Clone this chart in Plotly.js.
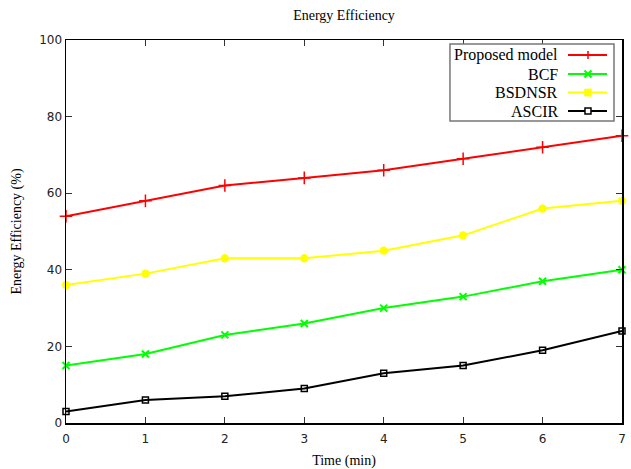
<!DOCTYPE html>
<html>
<head>
<meta charset="utf-8">
<script src="https://cdn.plot.ly/plotly-3.0.1.min.js"></script>
<style>html,body{margin:0;padding:0;background:#fff;}#chart{width:631px;height:469px;}</style>
</head>
<body>
<div id="chart"></div>
<script>
const timeMin = [0, 1, 2, 3, 4, 5, 6, 7];
const proposedModel = [54, 58, 62, 64, 66, 69, 72, 75];
const bcf = [15, 18, 23, 26, 30, 33, 37, 40];
const bsdnsr = [36, 39, 43, 43, 45, 49, 56, 58];
const ascir = [3, 6, 7, 9, 13, 15, 19, 24];
const seriesNames = ['Proposed model', 'BCF', 'BSDNSR', 'ASCIR'];
const xTicks = [0, 1, 2, 3, 4, 5, 6, 7];
const yTicks = [0, 20, 40, 60, 80, 100];

const serif = 'Liberation Serif, Times New Roman, serif';
const sans = 'DejaVu Sans, sans-serif';

function tr(y, name, color, symbol, size, mlw) {
  return {
    x: timeMin, y: y, name: name, type: 'scatter', mode: 'lines+markers',
    line: {color: color, width: 2},
    marker: {symbol: symbol, size: size, color: color, line: {color: color, width: mlw}},
    cliponaxis: false, showlegend: false
  };
}

const data = [
  tr(proposedModel, seriesNames[0], '#ff0000', 'cross-thin', 9, 1.5),
  tr(bcf, seriesNames[1], '#00ff00', 'x-thin', 7, 2),
  tr(bsdnsr, seriesNames[2], '#ffff00', 'asterisk', 7, 2.5),
  tr(ascir, seriesNames[3], '#000000', 'square-open', 6, 1.5)
];

// custom legend (text right, sample on right)
const rowsY = [0.9608, 0.9112, 0.8629, 0.8146];
const colors = ['#ff0000', '#00ff00', '#ffff00', '#000000'];
const annotations = seriesNames.map((n, i) => ({
  xref: 'paper', yref: 'paper', x: 0.8885, y: rowsY[i], xanchor: 'right', yanchor: 'middle',
  text: n, showarrow: false, font: {family: serif, size: 16, color: '#000'}
}));
const shapes = [{
  type: 'rect', xref: 'paper', yref: 'paper', x0: 0.6906, x1: 0.9856, y0: 0.7885, y1: 0.9896,
  line: {color: '#777', width: 1.5}, fillcolor: '#fff', layer: 'above'
}];
const mx = 0.9388;
rowsY.forEach((yy, i) => {
  shapes.push({type: 'line', xref: 'paper', yref: 'paper', x0: 0.9029, x1: 0.9730, y0: yy, y1: yy,
    line: {color: colors[i], width: 2}, layer: 'above'});
});
function pathShape(yy, path, color, w, fill) {
  return {type: 'path', xref: 'paper', yref: 'paper', xsizemode: 'pixel', ysizemode: 'pixel',
    xanchor: mx, yanchor: yy, path: path, line: {color: color, width: w},
    fillcolor: fill || 'rgba(0,0,0,0)', layer: 'above'};
}
shapes.push(pathShape(rowsY[0], 'M-4,0 L4,0 M0,-4 L0,4', '#ff0000', 1.5));
shapes.push(pathShape(rowsY[1], 'M-3.5,-3.5 L3.5,3.5 M-3.5,3.5 L3.5,-3.5', '#00ff00', 2));
shapes.push(pathShape(rowsY[2], 'M-3.5,-3.5 L3.5,3.5 M-3.5,3.5 L3.5,-3.5 M-4,0 L4,0 M0,-4 L0,4', '#ffff00', 2.5));
shapes.push(pathShape(rowsY[3], 'M-3,-3 L3,-3 L3,3 L-3,3 Z', '#000000', 1.5, '#fff'));

const axisCommon = {
  showline: true, linecolor: '#000', linewidth: 1.5, mirror: 'ticks',
  ticks: 'inside', ticklen: 6, tickwidth: 1, tickcolor: '#333',
  showgrid: false, zeroline: false,
  tickfont: {family: sans, size: 12, color: '#222'}
};

const layout = {
  width: 631, height: 469,
  margin: {l: 66, r: 9, t: 40, b: 46},
  paper_bgcolor: '#fff', plot_bgcolor: '#fff',
  title: {text: 'Energy Efficiency', x: 0.5, xref: 'paper', y: 0.968, yref: 'container',
    yanchor: 'middle', font: {family: serif, size: 14, color: '#000'}},
  xaxis: Object.assign({}, axisCommon, {range: [0, 7], tickvals: xTicks, ticklabelstandoff: 4,
    title: {text: 'Time (min)', standoff: 10, font: {family: serif, size: 14, color: '#000'}}}),
  yaxis: Object.assign({}, axisCommon, {range: [0, 100], tickvals: yTicks,
    title: {text: 'Energy Efficiency (%)', standoff: 14, font: {family: serif, size: 14, color: '#000'}}}),
  showlegend: false,
  annotations: annotations,
  shapes: shapes
};

Plotly.newPlot('chart', data, layout, {displayModeBar: false, staticPlot: true});
</script>
</body>
</html>
